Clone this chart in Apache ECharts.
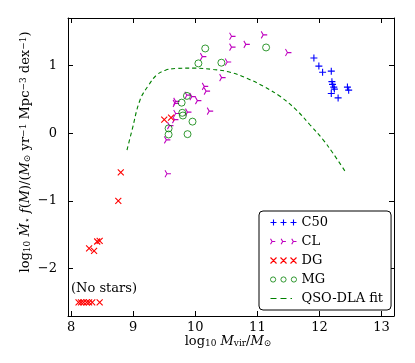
<!DOCTYPE html>
<html>
<head>
<meta charset="utf-8">
<script src="https://cdn.jsdelivr.net/npm/echarts@6/dist/echarts.min.js"></script>
<style>
  html, body { margin: 0; padding: 0; background: #fff; }
  #chart { width: 415px; height: 363px; }
</style>
</head>
<body>
<div id="chart"></div>
<script>
// [log10 Mvir, log10 SFR density]
const c50Points = [
  [11.91, 1.11], [11.99, 0.99], [12.05, 0.90], [12.19, 0.915], [12.20, 0.76], [12.21, 0.72],
  [12.23, 0.68], [12.24, 0.65], [12.19, 0.585], [12.30, 0.52], [12.45, 0.68], [12.47, 0.635]
];
const clPoints = [
  [10.60, 1.43], [11.11, 1.45], [10.60, 1.27], [10.83, 1.31], [11.50, 1.19], [10.13, 1.13],
  [10.53, 1.05], [10.44, 0.82], [10.16, 0.69], [10.19, 0.62], [9.88, 0.56], [9.96, 0.54],
  [10.05, 0.48], [9.70, 0.47], [9.69, 0.44], [10.24, 0.325], [9.89, 0.31], [9.70, 0.29],
  [9.68, 0.20], [9.60, 0.11], [9.55, -0.10], [9.56, -0.60]
];
const dgPoints = [
  [9.50, 0.20], [9.61, 0.23], [8.80, -0.58], [8.76, -1.00], [8.42, -1.60], [8.46, -1.59],
  [8.29, -1.70], [8.37, -1.74],
  [8.12, -2.5], [8.16, -2.5], [8.20, -2.5], [8.25, -2.5], [8.29, -2.5], [8.34, -2.5], [8.46, -2.5]
];
const mgPoints = [
  [10.16, 1.25], [11.14, 1.265], [10.05, 1.03], [10.42, 1.04], [9.865, 0.55], [9.78, 0.45],
  [9.79, 0.30], [9.80, 0.26], [9.955, 0.17], [9.57, 0.07], [9.57, -0.02], [9.875, -0.015]
];
const fitPoints = [
  [8.90, -0.25], [8.98, 0.04], [9.11, 0.49], [9.25, 0.71], [9.38, 0.86], [9.52, 0.93],
  [9.70, 0.955], [9.97, 0.96], [10.29, 0.94], [10.56, 0.90], [10.83, 0.81], [11.10, 0.69],
  [11.37, 0.54], [11.63, 0.34], [11.85, 0.12], [12.06, -0.10], [12.22, -0.30], [12.41, -0.56]
];
const xTicks = [8, 9, 10, 11, 12, 13];
const yTicks = [-2, -1, 0, 1];
const seriesNames = ['C50', 'CL', 'DG', 'MG', 'QSO-DLA fit'];

const serif = 'DejaVu Serif';
const colors = { c50: '#0000ff', cl: '#bf00bf', dg: '#ff0000', mg: '#008000', fit: '#008000' };

// marker shapes (stroked paths)
const plusPath = 'path://M0,5L10,5M5,0L5,10';
const crossPath = 'path://M0,0L10,10M10,0L0,10';
const triPath = 'path://M5,5L10,5M5,5L2.5,0.67M5,5L2.5,9.33';

// legend icons: three markers each
const plusIcon = 'path://M0,3L6,3M3,0L3,6M10,3L16,3M13,0L13,6M20,3L26,3M23,0L23,6';
const crossIcon = 'path://M0,0L6,6M6,0L0,6M10,0L16,6M16,0L10,6M20,0L26,6M26,0L20,6';
const triIcon = 'path://M1.5,3L4.5,3M1.5,3L0,0.4M1.5,3L0,5.6M11.5,3L14.5,3M11.5,3L10,0.4M11.5,3L10,5.6M21.5,3L24.5,3M21.5,3L20,0.4M21.5,3L20,5.6';
const circIcon = 'path://M5.5,3A2.5,2.5,0,1,1,0.5,3A2.5,2.5,0,1,1,5.5,3ZM15.5,3A2.5,2.5,0,1,1,10.5,3A2.5,2.5,0,1,1,15.5,3ZM25.5,3A2.5,2.5,0,1,1,20.5,3A2.5,2.5,0,1,1,25.5,3Z';
const dashIcon = 'path://M0,0L6,0L6,1.2L0,1.2ZM10,0L16,0L16,1.2L10,1.2ZM20,0L21.5,0L21.5,1.2L20,1.2ZM26,0L26,1.2Z';

const minus = v => (v < 0 ? '\u2212' + Math.abs(v) : String(v));

const richMath = {
  it: { fontFamily: serif, fontSize: 13, fontStyle: 'italic', color: '#000' },
  sub: { fontFamily: serif, fontSize: 9, color: '#000', verticalAlign: 'bottom', lineHeight: 10, padding: [7, 0, 0, 0] },
  sup: { fontFamily: serif, fontSize: 9, color: '#000', verticalAlign: 'top', lineHeight: 10, padding: [0, 0, 7, 0] }
};

const chart = echarts.init(document.getElementById('chart'));

function axisX(pos, labels) {
  return {
    type: 'value', position: pos, min: 7.95, max: 13.2,
    axisLine: { show: true, onZero: false, lineStyle: { color: '#000', width: 1 } },
    axisTick: { show: true, inside: true, length: 5, customValues: xTicks, lineStyle: { color: '#000' } },
    axisLabel: {
      show: labels, customValues: xTicks, margin: 5, formatter: minus,
      fontFamily: serif, fontSize: 13, color: '#000'
    },
    splitLine: { show: false }
  };
}
function axisY(pos, labels) {
  return {
    type: 'value', position: pos, min: -2.7, max: 1.7,
    axisLine: { show: true, onZero: false, lineStyle: { color: '#000', width: 1 } },
    axisTick: { show: true, inside: true, length: 5, customValues: yTicks, lineStyle: { color: '#000' } },
    axisLabel: {
      show: labels, customValues: yTicks, margin: 11, formatter: minus,
      fontFamily: serif, fontSize: 13, color: '#000'
    },
    splitLine: { show: false }
  };
}

function scatter(name, data, symbol, size, color) {
  return {
    name, type: 'scatter', data, symbol, symbolSize: size,
    itemStyle: { color: 'none', borderColor: color, borderWidth: 1.1, opacity: 1 },
    emphasis: { disabled: true }
  };
}

chart.setOption({
  animation: false,
  backgroundColor: '#fff',
  grid: { left: 68, right: 21, top: 18, bottom: 47 },
  xAxis: [axisX('bottom', true), axisX('top', false)],
  yAxis: [axisY('left', true), axisY('right', false)],
  legend: {
    orient: 'vertical', left: 259, top: 211,
    padding: [5, 8, 5, 9], itemGap: 6, itemWidth: 26, itemHeight: 6,
    borderColor: '#000', borderWidth: 1, borderRadius: 4, backgroundColor: '#fff',
    selectedMode: false,
    textStyle: { fontFamily: serif, fontSize: 13, color: '#000', lineHeight: 13 },
    data: [
      { name: seriesNames[0], icon: plusIcon, itemStyle: { color: 'none', borderColor: colors.c50, borderWidth: 1.1 } },
      { name: seriesNames[1], icon: triIcon, itemStyle: { color: 'none', borderColor: colors.cl, borderWidth: 1.1 } },
      { name: seriesNames[2], icon: crossIcon, itemStyle: { color: 'none', borderColor: colors.dg, borderWidth: 1.1 } },
      { name: seriesNames[3], icon: circIcon, itemStyle: { color: 'none', borderColor: colors.mg, borderWidth: 1 } },
      {
        name: seriesNames[4], icon: dashIcon,
        itemStyle: { color: colors.fit, borderWidth: 0 },
        lineStyle: { opacity: 0 }
      }
    ]
  },
  graphic: [
    {
      type: 'text', x: 71, y: 289, z: 10,
      style: { text: '(No stars)', fontFamily: serif, fontSize: 13, fill: '#000', verticalAlign: 'middle' }
    },
    {
      type: 'text', x: 228, y: 342, z: 10,
      style: {
        text: 'log{sub|10} {it|M}{sub|vir}/{it|M}{sub|\u2299}',
        fontFamily: serif, fontSize: 13, fill: '#000',
        align: 'center', verticalAlign: 'middle', rich: richMath
      }
    },
    {
      type: 'text', x: 26, y: 152, rotation: Math.PI / 2, z: 10,
      style: {
        text: 'log{sub|10} {it|\u1E40}{sub|\u22C6} {it|f}({it|M})/({it|M}{sub|\u2299} yr{sup|\u22121} Mpc{sup|\u22123} dex{sup|\u22121})',
        fontFamily: serif, fontSize: 13, fill: '#000',
        align: 'center', verticalAlign: 'middle', rich: richMath
      }
    }
  ],
  series: [
    scatter(seriesNames[0], c50Points, plusPath, 7, colors.c50),
    scatter(seriesNames[1], clPoints, triPath, [6, 7], colors.cl),
    scatter(seriesNames[2], dgPoints, crossPath, 6, colors.dg),
    Object.assign(scatter(seriesNames[3], mgPoints, 'circle', 7, colors.mg), {
      itemStyle: { color: 'none', borderColor: colors.mg, borderWidth: 1 }
    }),
    {
      name: seriesNames[4], type: 'line', data: fitPoints, smooth: 0.4,
      showSymbol: false, symbol: 'none',
      lineStyle: { color: colors.fit, width: 1.1, type: [4, 3] },
      itemStyle: { color: colors.fit },
      emphasis: { disabled: true }
    }
  ]
});
</script>
</body>
</html>
